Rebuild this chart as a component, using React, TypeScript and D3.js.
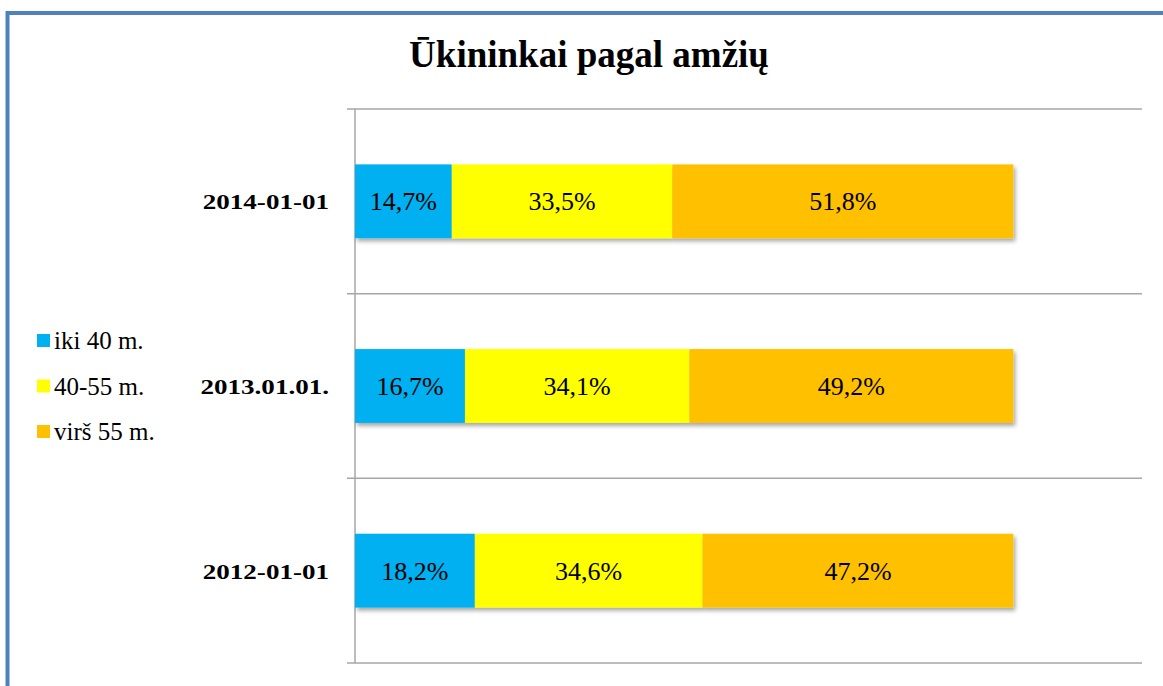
import React from "react";
import * as d3 from "d3";

const categories = ["2014-01-01", "2013.01.01.", "2012-01-01"];
const seriesNames = ["iki 40 m.", "40-55 m.", "virš 55 m."];
const seriesColors = ["#00B0F0", "#FFFF00", "#FFC000"];
const values2014 = [14.7, 33.5, 51.8];
const values2013 = [16.7, 34.1, 49.2];
const values2012 = [18.2, 34.6, 47.2];
const rowValues = [values2014, values2013, values2012];
const title = "Ūkininkai pagal amžių";

const W = 1163;
const H = 686;
const plotLeft = 355;
const plotTop = 109;
const plotBottom = 663;
const plotRight = 1142;

export default function App() {
  const x = d3.scaleLinear().domain([0, 120]).range([plotLeft, plotLeft + 790]);
  const y = d3
    .scaleBand<string>()
    .domain(categories)
    .range([plotTop, plotBottom])
    .paddingInner(0.6)
    .paddingOuter(0.3);
  const step = y.step();
  const boundaries = d3.range(categories.length + 1).map((i) => plotTop + i * step);
  const fmt = (v: number) => v.toFixed(1).replace(".", ",") + "%";

  return (
    <svg
      width={W}
      height={H}
      style={{ position: "absolute", left: 0, top: 0, background: "#fff" }}
    >
      <defs>
        <filter id="shadow" x="-5%" y="-20%" width="115%" height="160%">
          <feDropShadow dx="2" dy="3" stdDeviation="2" floodColor="#000" floodOpacity="0.35" />
        </filter>
      </defs>
      {/* frame */}
      <rect x={7.5} y={13} width={W + 20} height={H + 20} fill="none" stroke="#4F81BD" strokeWidth={4} />
      {/* title */}
      <text
        x={589}
        y={67}
        textAnchor="middle"
        fontFamily="Liberation Serif"
        fontSize={37}
        fontWeight={700}
        fill="#000"
      >
        {title}
      </text>
      {/* gridlines / category boundaries */}
      {boundaries.map((b, i) => (
        <line key={i} x1={plotLeft - 8} x2={plotRight} y1={b} y2={b} stroke="#A6A6A6" strokeWidth={1.5} />
      ))}
      <line x1={plotLeft} x2={plotLeft} y1={plotTop} y2={plotBottom} stroke="#A6A6A6" strokeWidth={1.5} />
      {/* bars */}
      {categories.map((c, ci) => {
        const vals = rowValues[ci];
        const cum = d3.cumsum(vals);
        const y0 = y(c) as number;
        const bh = y.bandwidth();
        return (
          <g key={c}>
            <g filter="url(#shadow)">
              {vals.map((v, si) => (
                <rect
                  key={si}
                  x={x(cum[si] - v)}
                  y={y0}
                  width={x(cum[si]) - x(cum[si] - v)}
                  height={bh}
                  fill={seriesColors[si]}
                />
              ))}
            </g>
            {vals.map((v, si) => (
              <text
                key={"t" + si}
                x={(x(cum[si] - v) + x(cum[si])) / 2}
                y={y0 + bh / 2 + 9}
                textAnchor="middle"
                fontFamily="Liberation Serif"
                fontSize={26}
                fontWeight={400}
                fill="#000"
              >
                {fmt(v)}
              </text>
            ))}
            <text
              transform={`translate(329, ${y0 + bh / 2 + 8}) scale(1.23, 1)`}
              textAnchor="end"
              fontFamily="Liberation Serif"
              fontSize={22}
              fontWeight={700}
              fill="#000"
            >
              {c}
            </text>
          </g>
        );
      })}
      {/* legend */}
      {seriesNames.map((n, i) => (
        <g key={n} transform={`translate(37, ${349 + i * 45.5})`}>
          <rect x={0} y={-15} width={13} height={13} fill={seriesColors[i]} />
          <text
            x={17}
            y={0}
            fontFamily="Liberation Serif"
            fontSize={25}
            fontWeight={400}
            fill="#000"
          >
            {n}
          </text>
        </g>
      ))}
    </svg>
  );
}
